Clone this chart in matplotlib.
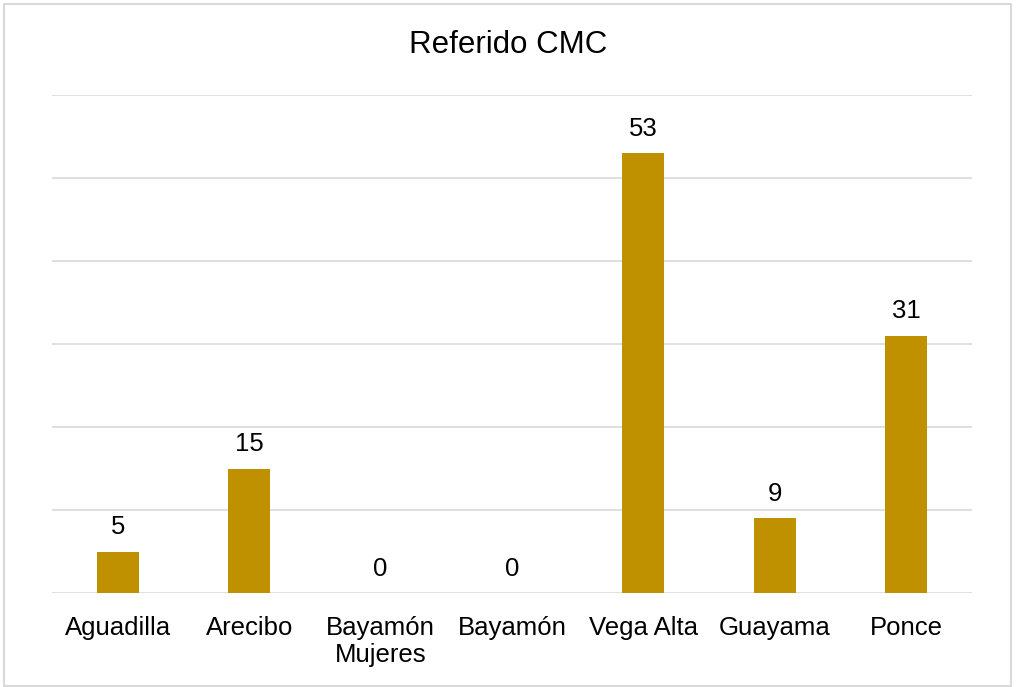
import matplotlib.pyplot as plt
from matplotlib.patches import Rectangle

categories = ["Aguadilla", "Arecibo", "Bayamón\nMujeres", "Bayamón", "Vega Alta", "Guayama", "Ponce"]
values = [5, 15, 0, 0, 53, 9, 31]

plt.rcParams['font.family'] = ['Liberation Sans', 'DejaVu Sans']

fig = plt.figure(figsize=(10.16, 6.87), dpi=100)
ax = fig.add_axes([0.0512, 0.1368, 0.9055, 0.7249])

x = range(len(categories))
bars = ax.bar(x, values, width=0.32, color='#BF9000', zorder=3)

ax.set_ylim(0, 60)
ax.set_xlim(-0.5, len(categories) - 0.5)
ax.set_yticks(range(0, 61, 10))
ax.yaxis.grid(True, color='#D9D9D9', linewidth=1.2, zorder=0)
ax.tick_params(axis='y', left=False, labelleft=False)
ax.tick_params(axis='x', bottom=False, pad=13, labelsize=18.5)
ax.set_xticks(list(x))
ax.set_xticklabels(categories, linespacing=1.15)
for s in ax.spines.values():
    s.set_visible(False)

for b, v in zip(bars, values):
    ax.annotate(str(v), (b.get_x() + b.get_width() / 2, v), xytext=(0, 9),
                textcoords='offset points', ha='center', va='bottom', fontsize=18.5)

fig.text(0.5, 0.934, "Referido CMC", ha='center', va='center', fontsize=22.5)

fig.patches.append(Rectangle((0.004, 0.002), 0.991, 0.992, transform=fig.transFigure,
                             fill=False, edgecolor='#D9D9D9', linewidth=1.5))

fig.savefig("out.png", dpi=100)
